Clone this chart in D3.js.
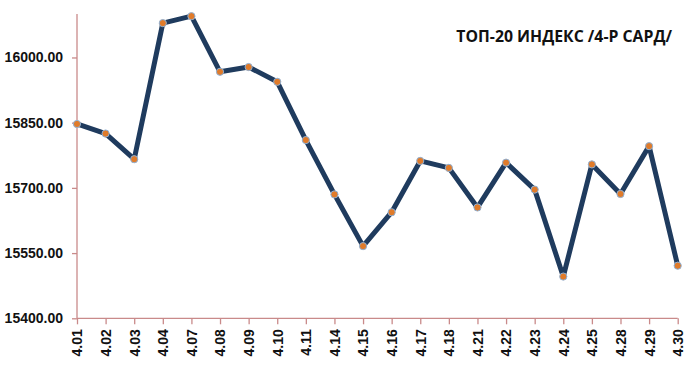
<!DOCTYPE html>
<html><head><meta charset="utf-8">
<script src="https://cdn.jsdelivr.net/npm/d3@7"></script>
<style>body{margin:0;background:#fff}svg{display:block}</style>
</head><body>
<svg id="c" width="686" height="373"></svg>
<script>
const categories = ["4.01","4.02","4.03","4.04","4.07","4.08","4.09","4.10","4.11","4.14","4.15","4.16","4.17","4.18","4.21","4.22","4.23","4.24","4.25","4.28","4.29","4.30"];
const values = [15847,15825,15766,16079,16095,15967,15978,15944,15810,15685,15566,15644,15762,15746,15655,15758,15696,15496,15754,15686,15796,15521];
const yTicks = [15400,15550,15700,15850,16000];
const title = "ТОП-20 ИНДЕКС /4-Р САРД/";

const svg = d3.select("#c");
const x = d3.scalePoint().domain(categories).range([77, 677.7]);
const y = d3.scaleLinear().domain([15400, 16100]).range([318.3, 14]);
const axisColor = "#c98a8a";
const font = "'Liberation Sans', Arial, sans-serif";

const ya = svg.append("g").attr("transform","translate(77,0)")
  .call(d3.axisLeft(y).tickValues(yTicks).tickFormat(d3.format(".2f")).tickSize(5).tickPadding(9));
ya.select(".domain").attr("stroke",axisColor).attr("stroke-width",1.3).attr("d","M0,14V318.3");
ya.selectAll(".tick line").attr("stroke",axisColor).attr("stroke-width",1.3);
ya.selectAll(".tick text").attr("font-family",font).attr("font-weight","bold").attr("font-size",14).attr("fill","#111");

const xa = svg.append("g").attr("transform","translate(0,318.3)")
  .call(d3.axisBottom(x).tickSize(6).tickSizeOuter(0));
xa.select(".domain").attr("stroke",axisColor).attr("stroke-width",1.3).attr("d","M77,0H677.7");
xa.selectAll(".tick line").attr("stroke",axisColor).attr("stroke-width",1.3);
xa.selectAll(".tick text").attr("font-family",font).attr("font-weight","bold").attr("font-size",14).attr("fill","#111")
  .attr("transform","rotate(-90)").attr("text-anchor","end").attr("x",-11).attr("y",0).attr("dy","0.35em");

const line = d3.line().x((d,i)=>x(categories[i])).y(d=>y(d));
svg.append("path").datum(values).attr("d",line).attr("fill","none")
  .attr("stroke","#1f3b5e").attr("stroke-width",5).attr("stroke-linejoin","round");
svg.append("g").selectAll("circle").data(values).join("circle")
  .attr("cx",(d,i)=>x(categories[i])).attr("cy",d=>y(d)).attr("r",3.6)
  .attr("fill","#e07b2a").attr("stroke","#8fb1d6").attr("stroke-width",1);

svg.append("text").attr("x",672).attr("y",42).attr("text-anchor","end")
  .attr("font-family","'Open Sans', sans-serif").attr("font-weight","bold").attr("font-size",15.8)
  .attr("fill","#111").text(title);
</script>
</body></html>
